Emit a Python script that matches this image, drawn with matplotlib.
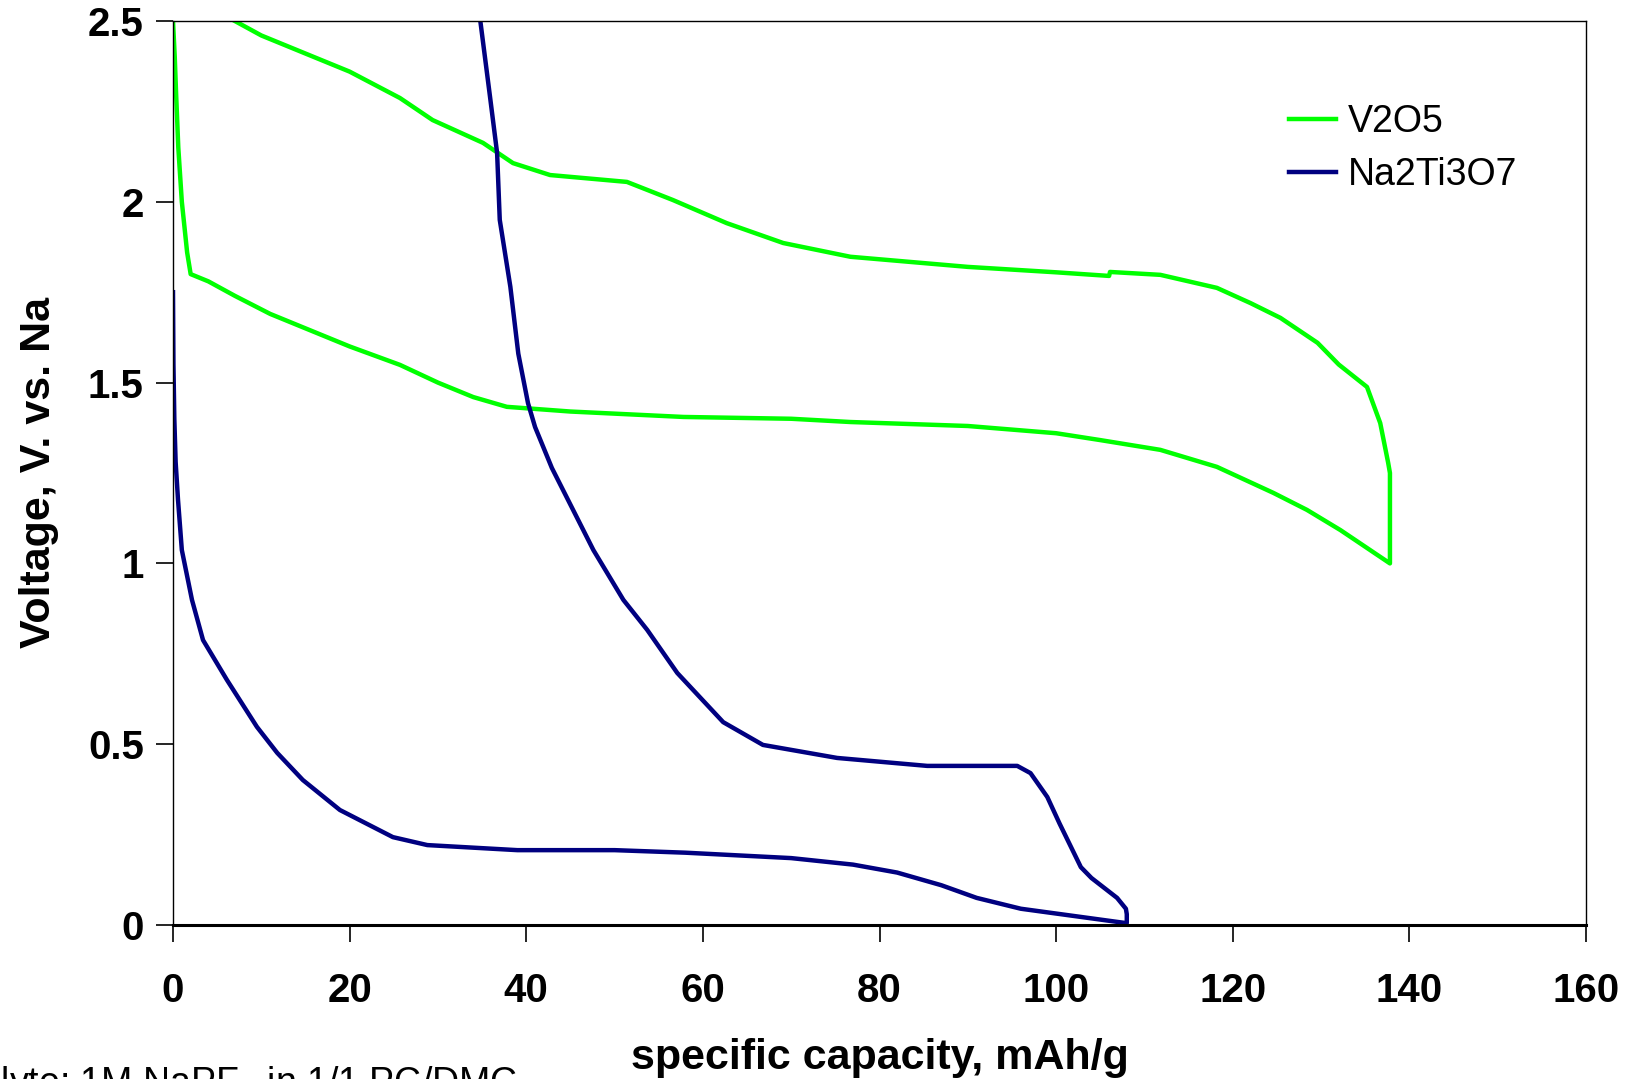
import numpy as np
import matplotlib
matplotlib.use('Agg')
import matplotlib.pyplot as plt

plt.rcParams['font.family'] = ['Liberation Sans', 'DejaVu Sans']

# V2O5: discharge then charge (capacity mAh/g, voltage V)
v2o5_cap = [0.0, 0.1, 0.2, 0.35, 0.6, 1.0, 1.3, 1.6, 2.0, 4, 7, 11, 15, 20, 25.7, 30, 34, 37.8, 45,
            57.8, 70, 76.7, 90, 100, 105, 111.8, 118.2, 124.6, 128.4, 132.2, 137.8,
            137.8, 137.6, 136.7, 135.2, 132, 129.6, 125.4, 122.0, 118.2, 111.8, 106.1, 106, 100,
            90, 76.7, 69.1, 62.7, 56.6, 51.4, 42.7, 38.5, 35.1, 29.4, 25.7, 20, 15, 10, 7]
v2o5_volt = [2.50, 2.45, 2.40, 2.30, 2.15, 2.00, 1.93, 1.86, 1.80, 1.78, 1.74, 1.69, 1.65, 1.60, 1.549, 1.50, 1.46, 1.433, 1.42,
             1.405, 1.40, 1.391, 1.38, 1.36, 1.341, 1.314, 1.267, 1.195, 1.148, 1.092, 1.00,
             1.25, 1.278, 1.388, 1.488, 1.55, 1.61, 1.679, 1.72, 1.762, 1.798, 1.806, 1.795, 1.805,
             1.82, 1.848, 1.886, 1.941, 2.005, 2.055, 2.074, 2.107, 2.163, 2.226, 2.287, 2.36, 2.41, 2.46, 2.50]

# Na2Ti3O7: discharge then charge
nto_cap = [0.0, 0.05, 0.15, 0.3, 0.57, 1.0, 2.15, 3.4, 6.1, 9.5, 11.8, 14.7, 18.9, 24.9, 28.8, 39.0, 50, 58,
           70, 77, 82, 87, 91, 96, 102, 108,
           108, 107.9, 106.9, 104, 102.8, 100.4, 99.0, 97.1, 95.6, 85.4, 75.2, 66.8, 62.3, 57.1, 53.7, 51.0, 47.6,
           42.9, 41.0, 40.2, 39.1, 38.2, 37.0, 36.7, 35.9, 34.8]
nto_volt = [1.75, 1.55, 1.40, 1.28, 1.175, 1.037, 0.899, 0.788, 0.678, 0.548, 0.476, 0.401, 0.318, 0.243, 0.221, 0.207, 0.207, 0.20,
            0.185, 0.167, 0.145, 0.11, 0.075, 0.045, 0.025, 0.005,
            0.03, 0.045, 0.075, 0.13, 0.16, 0.28, 0.354, 0.42, 0.44, 0.44, 0.462, 0.498, 0.561, 0.697, 0.816, 0.899, 1.037,
            1.264, 1.377, 1.443, 1.58, 1.765, 1.95, 2.135, 2.29, 2.50]

xticks = [0, 20, 40, 60, 80, 100, 120, 140, 160]
yticks = [0, 0.5, 1, 1.5, 2, 2.5]
ytick_labels = ['0', '0.5', '1', '1.5', '2', '2.5']

fig = plt.figure(figsize=(16.37, 10.79), dpi=100)
ax = fig.add_axes([173 / 1637, 1 - 925 / 1079, (1586 - 173) / 1637, (925 - 21) / 1079])

ax.plot(v2o5_cap, v2o5_volt, color='#00FF00', lw=3.2, label='V2O5')
ax.plot(nto_cap, nto_volt, color='#000080', lw=3.2, label='Na2Ti3O7')

ax.set_xlim(0, 160)
ax.set_ylim(0, 2.5)
ax.set_xticks(xticks)
ax.set_yticks(yticks)
ax.set_yticklabels(ytick_labels)
for lab in ax.get_xticklabels() + ax.get_yticklabels():
    lab.set_fontweight('bold')
ax.tick_params(axis='x', direction='out', length=12, width=1.2, pad=22, labelsize=29)
ax.tick_params(axis='y', direction='out', length=12, width=1.2, pad=9, labelsize=29)

for s in ['left', 'top', 'right']:
    ax.spines[s].set_linewidth(1.0)
ax.spines['bottom'].set_linewidth(2.2)

ax.set_xlabel('specific capacity, mAh/g', fontsize=31, fontweight='bold', labelpad=20)
ax.set_ylabel('Voltage, V. vs. Na', fontsize=31, fontweight='bold', labelpad=21)

ax.legend(loc='upper right', bbox_to_anchor=(0.975, 0.945), frameon=False, fontsize=27,
          handlelength=1.25, handletextpad=0.3, labelspacing=0.45)

fig.text(517 / 1637, 1 - 1064 / 1079, 'Electrolyte: 1M NaPF$_6$ in 1/1 PC/DMC', ha='right', va='top',
         fontsize=27)

fig.savefig('out.png', dpi=100)
